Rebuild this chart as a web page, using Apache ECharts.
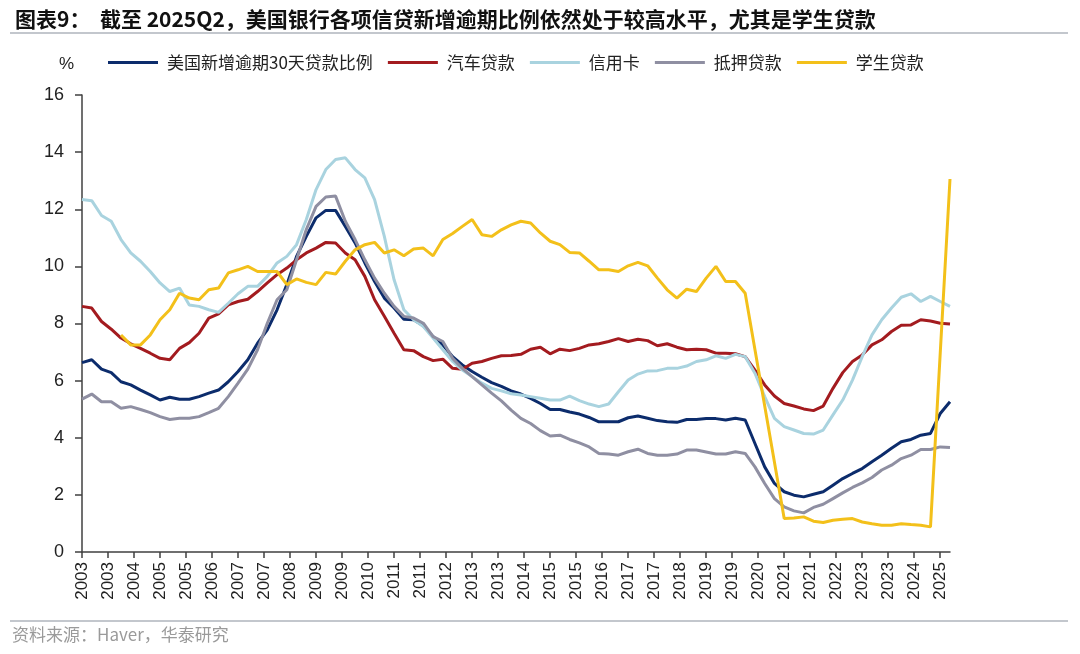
<!DOCTYPE html>
<html>

<head>
    <title>美国银行各项信贷新增逾期比例</title>
    <meta charset="utf-8">
    <script type="text/javascript" src="https://cdn.jsdelivr.net/npm/echarts@6/dist/echarts.min.js"></script>
    <style>
    html, body {
        margin: 0;
        padding: 0;
        background: #fff;
    }

    .main {
        width: 1080px;
        height: 654px;
    }
    </style>
</head>

<body>
    <div id="main" class="main"></div>
    <script type="text/javascript">
    //季度数据，2003Q1 ~ 2025Q2，共90个季度
    const startYear = 2003;
    const startMonth = 3;
    const quarterCount = 90;

    const seriesNames = ['美国新增逾期30天贷款比例', '汽车贷款', '信用卡', '抵押贷款', '学生贷款'];
    const seriesColors = ['#0c2c6c', '#a31b1f', '#a9d3df', '#8f8fa2', '#f3c01a'];

    const total30 = [
        6.63, 6.73, 6.40, 6.28, 5.96, 5.85, 5.67, 5.50, 5.32, 5.42,
        5.35, 5.35, 5.44, 5.56, 5.67, 5.96, 6.32, 6.73, 7.31, 7.78,
        8.48, 9.36, 10.35, 11.05, 11.70, 11.96, 11.96, 11.40, 10.82, 10.12,
        9.47, 8.89, 8.54, 8.15, 8.13, 7.92, 7.54, 7.25, 6.84, 6.55,
        6.32, 6.12, 5.93, 5.80, 5.64, 5.53, 5.38, 5.20, 4.99, 4.99,
        4.90, 4.83, 4.71, 4.56, 4.56, 4.56, 4.70, 4.76, 4.68, 4.60,
        4.56, 4.54, 4.64, 4.64, 4.67, 4.67, 4.62, 4.68, 4.62, 3.80,
        2.98, 2.40, 2.11, 1.99, 1.93, 2.02, 2.11, 2.34, 2.57, 2.75,
        2.92, 3.16, 3.39, 3.63, 3.86, 3.94, 4.09, 4.15, 4.85, 5.26
    ];
    const autoLoan = [
        8.60, 8.54, 8.07, 7.80, 7.49, 7.29, 7.13, 6.96, 6.78, 6.73,
        7.13, 7.33, 7.66, 8.19, 8.34, 8.65, 8.77, 8.85, 9.12, 9.42,
        9.71, 9.94, 10.23, 10.47, 10.64, 10.84, 10.82, 10.47, 10.23, 9.65,
        8.83, 8.25, 7.66, 7.08, 7.05, 6.84, 6.70, 6.75, 6.43, 6.40,
        6.61, 6.67, 6.78, 6.87, 6.88, 6.92, 7.10, 7.17, 6.94, 7.10,
        7.05, 7.13, 7.25, 7.29, 7.37, 7.47, 7.37, 7.45, 7.40, 7.22,
        7.29, 7.17, 7.08, 7.10, 7.08, 6.96, 6.96, 6.94, 6.84, 6.37,
        5.85, 5.46, 5.20, 5.11, 5.01, 4.95, 5.11, 5.73, 6.28, 6.67,
        6.90, 7.25, 7.43, 7.72, 7.94, 7.95, 8.13, 8.09, 8.01, 7.98
    ];
    const creditCard = [
        12.34, 12.30, 11.78, 11.58, 10.94, 10.47, 10.18, 9.82, 9.42, 9.12,
        9.24, 8.65, 8.60, 8.48, 8.39, 8.71, 9.04, 9.30, 9.30, 9.65,
        10.12, 10.35, 10.76, 11.64, 12.69, 13.39, 13.74, 13.80, 13.39, 13.10,
        12.34, 11.05, 9.53, 8.48, 8.13, 7.89, 7.49, 7.08, 6.67, 6.37,
        6.14, 5.91, 5.73, 5.64, 5.54, 5.50, 5.44, 5.38, 5.32, 5.32,
        5.46, 5.30, 5.18, 5.09, 5.18, 5.61, 6.02, 6.23, 6.34, 6.35,
        6.43, 6.43, 6.51, 6.67, 6.73, 6.87, 6.78, 6.92, 6.84, 6.26,
        5.44, 4.68, 4.39, 4.27, 4.15, 4.13, 4.27, 4.80, 5.32, 6.02,
        6.84, 7.60, 8.13, 8.54, 8.92, 9.04, 8.77, 8.95, 8.77, 8.60
    ];
    const mortgage = [
        5.35, 5.53, 5.26, 5.26, 5.03, 5.09, 4.99, 4.88, 4.74, 4.64,
        4.68, 4.68, 4.74, 4.88, 5.03, 5.44, 5.91, 6.40, 7.08, 8.01,
        8.83, 9.18, 10.23, 11.29, 12.10, 12.43, 12.46, 11.58, 10.94, 10.23,
        9.59, 9.06, 8.60, 8.25, 8.19, 8.01, 7.54, 7.37, 6.78, 6.43,
        6.14, 5.85, 5.56, 5.29, 4.97, 4.68, 4.50, 4.25, 4.06, 4.09,
        3.94, 3.82, 3.68, 3.45, 3.43, 3.39, 3.51, 3.60, 3.45, 3.39,
        3.39, 3.43, 3.57, 3.57, 3.50, 3.43, 3.43, 3.51, 3.45, 2.98,
        2.40, 1.87, 1.58, 1.44, 1.37, 1.56, 1.67, 1.87, 2.07, 2.26,
        2.42, 2.61, 2.87, 3.04, 3.27, 3.39, 3.59, 3.59, 3.68, 3.66
    ];
    //学生贷款：2003年无数据，2020Q2-Q4、2025Q1 缺失，原图直接连线
    const studentLoan = [
        null, null, null, null, 7.60, 7.25, 7.25, 7.60, 8.13, 8.48,
        9.06, 8.89, 8.83, 9.18, 9.24, 9.77, 9.88, 10.00, 9.82, 9.82,
        9.82, 9.36, 9.56, 9.44, 9.36, 9.79, 9.73, 10.18, 10.58, 10.76,
        10.84, 10.47, 10.58, 10.37, 10.61, 10.64, 10.37, 10.94, 11.15, 11.40,
        11.64, 11.11, 11.05, 11.28, 11.45, 11.58, 11.52, 11.17, 10.88, 10.76,
        10.49, 10.47, 10.18, 9.88, 9.88, 9.82, 10.02, 10.14, 10.02, 9.59,
        9.18, 8.89, 9.20, 9.12, 9.59, 10.00, 9.47, 9.47, 9.06, null,
        null, null, 1.17, 1.19, 1.23, 1.08, 1.03, 1.11, 1.15, 1.17,
        1.05, 0.99, 0.94, 0.94, 0.99, 0.96, 0.94, 0.88, null, 13.06
    ];
    const seriesValues = [total30, autoLoan, creditCard, mortgage, studentLoan];

    //横轴按月展开，标签每8个月显示一次（只显示年份）
    const months = [];
    for (let k = 0; k < (quarterCount - 1) * 3 + 1; k++) {
        const m = startMonth - 1 + k;
        const y = startYear + Math.floor(m / 12);
        months.push(y + '-' + String(m % 12 + 1).padStart(2, '0'));
    }

    const myChart = echarts.init(document.getElementById('main'));
    const axisColor = '#404040';
    const cjkFont = '"Noto Sans CJK SC", "Noto Sans", sans-serif';
    const numFont = '"Liberation Sans", Arial, sans-serif';

    const option = {
        backgroundColor: '#fff',
        animation: false,
        title: {
            text: '图表9：  截至 2025Q2，美国银行各项信贷新增逾期比例依然处于较高水平，尤其是学生贷款',
            left: 10,
            top: 4,
            textStyle: {
                fontFamily: cjkFont,
                fontSize: 21,
                fontWeight: 'bold',
                color: '#111'
            }
        },
        legend: {
            left: 103,
            top: 49,
            icon: 'rect',
            itemWidth: 50,
            itemHeight: 3,
            itemGap: 15,
            textStyle: {
                fontFamily: cjkFont,
                fontSize: 17,
                color: '#222',
                padding: [0, 0, 0, 4]
            },
            data: seriesNames
        },
        grid: {
            left: 82,
            right: 130,
            top: 95,
            bottom: 102,
            containLabel: false
        },
        xAxis: {
            type: 'category',
            boundaryGap: false,
            data: months,
            axisLine: {
                lineStyle: { color: axisColor, width: 1.5 }
            },
            axisTick: {
                interval: 7,
                length: 6,
                lineStyle: { color: axisColor, width: 1.5 }
            },
            axisLabel: {
                interval: 7,
                rotate: 90,
                margin: 10,
                fontFamily: numFont,
                fontSize: 17,
                color: '#222',
                formatter: function(v) {
                    return v.slice(0, 4);
                }
            },
            splitLine: { show: false }
        },
        yAxis: {
            type: 'value',
            min: 0,
            max: 16,
            interval: 2,
            name: '%',
            nameLocation: 'end',
            nameGap: 22,
            nameTextStyle: {
                fontFamily: numFont,
                fontSize: 17,
                color: '#222',
                align: 'right',
                padding: [0, 8, 0, 0]
            },
            axisLine: {
                show: true,
                lineStyle: { color: axisColor, width: 1.5 }
            },
            axisTick: {
                show: true,
                length: 7,
                lineStyle: { color: axisColor, width: 1.5 }
            },
            axisLabel: {
                margin: 18,
                fontFamily: numFont,
                fontSize: 18,
                color: '#222'
            },
            splitLine: { show: false }
        },
        graphic: [{
            type: 'line',
            shape: { x1: 10, y1: 33, x2: 1068, y2: 33 },
            style: { stroke: '#c3c7cd', lineWidth: 2 }
        }, {
            type: 'line',
            shape: { x1: 10, y1: 621, x2: 1068, y2: 621 },
            style: { stroke: '#c3c7cd', lineWidth: 2 }
        }, {
            type: 'text',
            left: 12,
            top: 626,
            style: {
                text: '资料来源：Haver，华泰研究',
                fontFamily: cjkFont,
                fontSize: 17,
                fill: '#9a9a9a'
            }
        }],
        series: seriesNames.map(function(name, s) {
            return {
                name: name,
                type: 'line',
                showSymbol: false,
                symbol: 'none',
                connectNulls: s === 4,
                lineStyle: { width: 3, color: seriesColors[s] },
                itemStyle: { color: seriesColors[s] },
                data: seriesValues[s].map(function(v, i) {
                    return [i * 3, v === null ? '-' : v];
                })
            };
        })
    };

    myChart.setOption(option);
    </script>
</body>

</html>
